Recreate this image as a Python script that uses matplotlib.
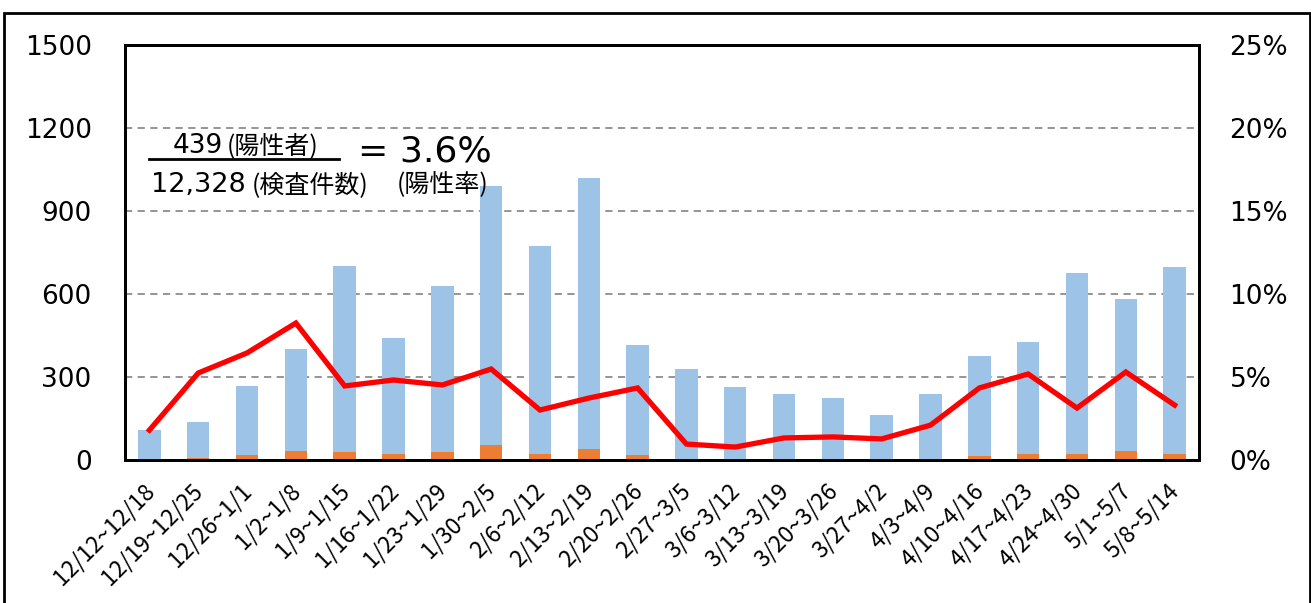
import numpy as np
import matplotlib
matplotlib.use("Agg")
import matplotlib.pyplot as plt
from matplotlib.patches import Rectangle
from matplotlib.lines import Line2D
from matplotlib.ticker import FuncFormatter
from matplotlib.transforms import ScaledTranslation

# weekly periods
weeks = ["12/12~12/18", "12/19~12/25", "12/26~1/1", "1/2~1/8", "1/9~1/15",
         "1/16~1/22", "1/23~1/29", "1/30~2/5", "2/6~2/12", "2/13~2/19",
         "2/20~2/26", "2/27~3/5", "3/6~3/12", "3/13~3/19", "3/20~3/26",
         "3/27~4/2", "4/3~4/9", "4/10~4/16", "4/17~4/23", "4/24~4/30",
         "5/1~5/7", "5/8~5/14"]

# number of tests per week
tests = [108, 136, 267, 401, 701, 441, 629, 990, 773, 1019, 416,
         329, 264, 239, 224, 164, 240, 376, 426, 676, 582, 697]

# number of positives per week
positives = [2, 7, 17, 33, 30, 21, 28, 53, 22, 38, 18,
             3, 2, 3, 3, 2, 5, 16, 22, 21, 31, 23]

# positivity rate (%)
rate = [1.8, 5.24, 6.45, 8.25, 4.46, 4.82, 4.52, 5.48, 3.01, 3.73, 4.34,
        0.96, 0.78, 1.33, 1.39, 1.27, 2.1, 4.34, 5.18, 3.13, 5.3, 3.31]

left_ticks = [0, 300, 600, 900, 1200, 1500]
right_ticks = [0, 5, 10, 15, 20, 25]

W, H = 1311, 603
fig = plt.figure(figsize=(W / 100, H / 100), dpi=100)

def fx(x):
    return x / W

def fy(y):
    return 1 - y / H

jp = ["Noto Sans CJK JP", "DejaVu Sans"]

ax = fig.add_axes([fx(125), fy(460), (1199 - 125) / W, (460 - 45) / H])
x = np.arange(len(weeks))

ax.bar(x, tests, width=0.46, color="#9dc3e6", zorder=2)
ax.bar(x, positives, width=0.46, color="#ed7d31", zorder=3)

ax.set_xlim(-0.5, len(weeks) - 0.5)
ax.set_ylim(0, 1500)
ax.set_yticks(left_ticks)
ax.yaxis.grid(True, linestyle=(0, (4, 3)), color="#8c8c8c", linewidth=1.3, zorder=0)
ax.tick_params(axis="y", length=0, pad=24, labelsize=19)
ax.set_xticks(x)
ax.set_xticklabels(weeks, rotation=45, ha="right", va="top", rotation_mode="anchor",
                   fontsize=16.5, family=jp)
ax.tick_params(axis="x", length=0, pad=14)
shift = ScaledTranslation(-5 / 72, 0, fig.dpi_scale_trans)
for lab in ax.get_xticklabels():
    lab.set_transform(lab.get_transform() + shift)
for s in ax.spines.values():
    s.set_linewidth(2)
    s.set_color("black")

ax2 = ax.twinx()
ax2.plot(x, rate, color="#ff0000", linewidth=3.8, solid_joinstyle="miter", zorder=5)
ax2.set_ylim(0, 25)
ax2.set_yticks(right_ticks)
ax2.yaxis.set_major_formatter(FuncFormatter(lambda v, p: f"{v:.0f}%"))
ax2.tick_params(axis="y", length=0, pad=22, labelsize=19)
for s in ax2.spines.values():
    s.set_linewidth(2)
    s.set_color("black")

# ratio annotation
fig.text(fx(173), fy(153), "439", fontsize=19, va="baseline")
fig.text(fx(227), fy(153), "(陽性者)", fontsize=18, va="baseline", family=jp)
fig.add_artist(Line2D([fx(149), fx(339)], [fy(159), fy(159)], color="black", linewidth=2))
fig.text(fx(151), fy(192), "12,328", fontsize=19.5, va="baseline")
fig.text(fx(252), fy(192), "(検査件数)", fontsize=18, va="baseline", family=jp)
fig.text(fx(358), fy(162), "= 3.6%", fontsize=26, va="baseline")
fig.text(fx(397), fy(192), "(陽性率)", fontsize=18, va="baseline", family=jp)

# outer frame
fig.add_artist(Rectangle((fx(4), -0.02), fx(1306), fy(13) + 0.02, fill=False,
                         edgecolor="black", linewidth=2, transform=fig.transFigure))

fig.savefig("out.png", dpi=100)
